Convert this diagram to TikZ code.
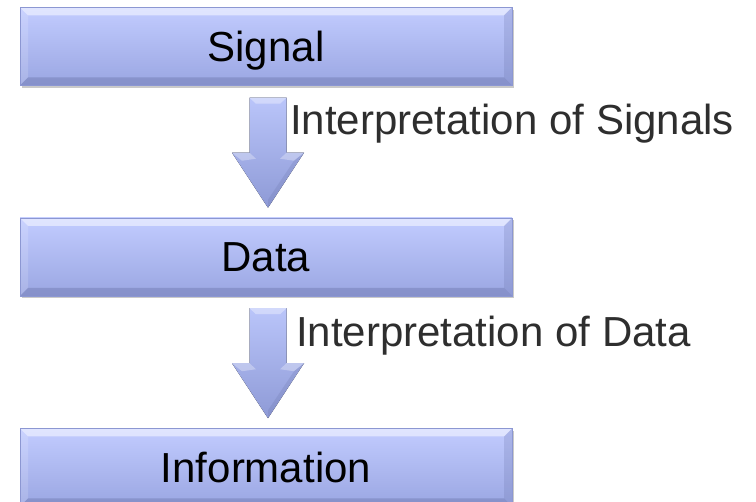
\documentclass[tikz,border=0pt]{standalone}
\usepackage{fontspec}
\setmainfont{Liberation Sans}
\usetikzlibrary{calc,positioning,shadows}

\definecolor{boxtop}{HTML}{C2CCFF}
\definecolor{boxbot}{HTML}{9AA6E2}
\definecolor{boxdark}{HTML}{6E78AE}
\definecolor{boxedge}{HTML}{8C97D2}
\definecolor{arrtop}{HTML}{BAC5FA}
\definecolor{arrbot}{HTML}{8E9AD6}
\definecolor{notegray}{HTML}{2E2E2E}

% block arrow between two boxes
\newcommand{\blockarrow}[2]{%
  \coordinate (#1-top) at ($(#1.south)+(2pt,-12pt)$);
  \coordinate (#1-tip) at ($(#2.north)+(2pt,10pt)$);
  \fill[arrowbody] ($(#1-top)+(-18.5pt,0)$) -- ($(#1-top)+(18.5pt,0)$)
    -- ($(#1-tip)+(18.5pt,55pt)$) -- ($(#1-tip)+(36pt,55pt)$) -- (#1-tip)
    -- ($(#1-tip)+(-36pt,55pt)$) -- ($(#1-tip)+(-18.5pt,55pt)$) -- cycle;
  % light facets
  \fill[white,opacity=.35] ($(#1-top)+(-18.5pt,0)$) -- ($(#1-top)+(18.5pt,0)$)
    -- ($(#1-top)+(12pt,-6pt)$) -- ($(#1-top)+(-12pt,-6pt)$) -- cycle;
  \fill[white,opacity=.3] ($(#1-tip)+(-36pt,55pt)$) -- ($(#1-tip)+(-18.5pt,55pt)$)
    -- ($(#1-tip)+(-12pt,49pt)$) -- ($(#1-tip)+(-26pt,47pt)$) -- cycle;
  \fill[white,opacity=.3] ($(#1-tip)+(36pt,55pt)$) -- ($(#1-tip)+(18.5pt,55pt)$)
    -- ($(#1-tip)+(12pt,49pt)$) -- ($(#1-tip)+(26pt,47pt)$) -- cycle;
  \fill[boxdark,opacity=.25] ($(#1-tip)+(36pt,55pt)$) -- (#1-tip) -- ($(#1-tip)+(0,8pt)$)
    -- ($(#1-tip)+(26pt,47pt)$) -- cycle;
}

\begin{document}
\begin{tikzpicture}[x=1pt,y=-1pt]
  % Styles
  \tikzset{
    level/.style={minimum width=492pt, minimum height=78pt, inner sep=0pt,
      text height=30pt, text depth=0pt, top color=boxtop, bottom color=boxbot,
      draw=boxedge, line width=0.5pt,
      font=\fontsize{42}{50}\selectfont,
      drop shadow={shadow xshift=1.5pt, shadow yshift=-2.5pt, opacity=.3, fill=black!70},
      path picture={
        \coordinate (nw) at (path picture bounding box.north west);
        \coordinate (ne) at (path picture bounding box.north east);
        \coordinate (sw) at (path picture bounding box.south west);
        \coordinate (se) at (path picture bounding box.south east);
        \fill[white,opacity=.5] (nw) -- (ne) -- ($(ne)+(-8pt,-8pt)$) -- ($(nw)+(8pt,-8pt)$) -- cycle;
        \fill[boxdark,opacity=.45] (sw) -- (se) -- ($(se)+(-8pt,8pt)$) -- ($(sw)+(8pt,8pt)$) -- cycle;
        \fill[boxdark,opacity=.25] (ne) -- (se) -- ($(se)+(-8pt,8pt)$) -- ($(ne)+(-8pt,-8pt)$) -- cycle;
        \fill[white,opacity=.15] (nw) -- (sw) -- ($(sw)+(8pt,8pt)$) -- ($(nw)+(8pt,-8pt)$) -- cycle;
      }},
    arrowbody/.style={top color=arrtop, bottom color=arrbot},
    note/.style={anchor=base west, inner sep=0pt, text=notegray,
      font=\fontsize{42}{50}\selectfont}
  }

  \useasboundingbox (0,0) rectangle (756,502);

  % Boxes
  \node[level] (signal) at (266,46.5) {Signal};
  \node[level, below=132pt of signal] (data) {Data};
  \node[level, below=132pt of data] (info) {Information};

  % Arrows
  \blockarrow{signal}{data}
  \blockarrow{data}{info}

  % Labels
  \node[note] (lab1) at (290,135) {Interpretation of Signals};
  \node[note] (lab2) at (296,347) {Interpretation of Data};

\end{tikzpicture}
\end{document}
